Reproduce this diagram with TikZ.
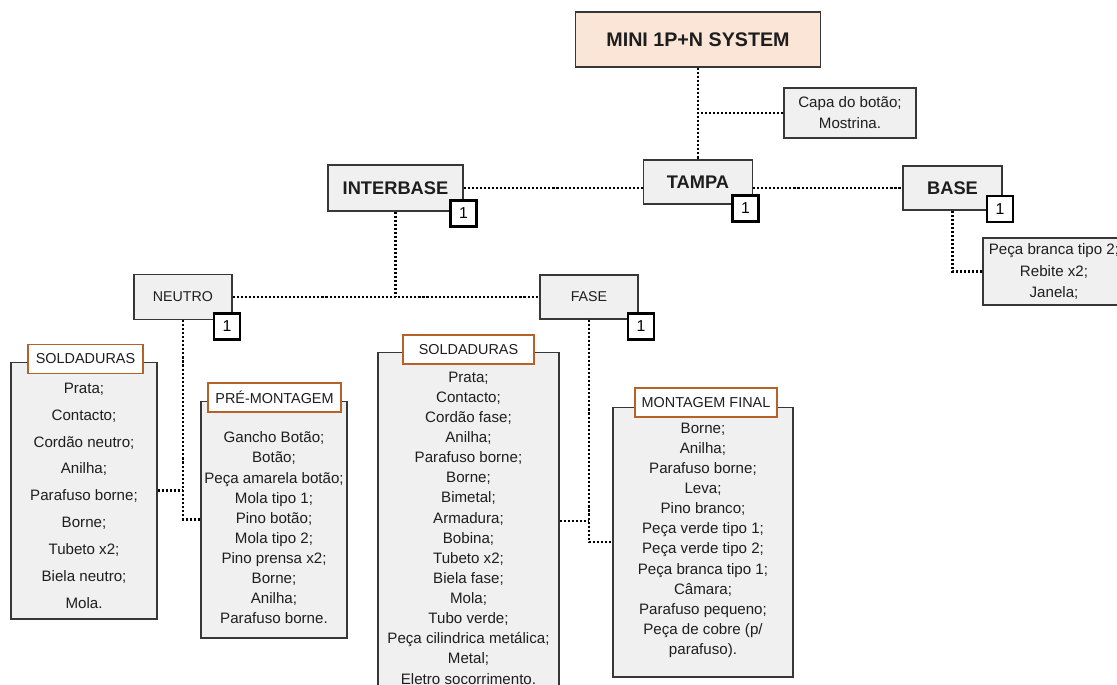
\documentclass[tikz,border=0pt]{standalone}
\usepackage{fontspec}
\setmainfont{Liberation Sans}
\definecolor{peach}{RGB}{251,229,214}
\definecolor{boxgray}{RGB}{240,240,240}
\definecolor{linegray}{RGB}{55,55,55}
\definecolor{rust}{RGB}{181,98,42}
\definecolor{ink}{RGB}{30,30,30}
\tikzset{
  box/.style={rectangle,draw=linegray,line width=0.6pt,fill=boxgray,text=ink,inner sep=0pt},
  title/.style={box,font=\fontsize{10.4}{12}\selectfont\bfseries},
  plain/.style={box,align=center,font=\fontsize{8.6}{12}\selectfont},
  badge/.style={rectangle,draw=black,line width=1.3pt,fill=white,minimum size=0.52cm,inner sep=0pt,font=\fontsize{9}{10}\selectfont},
  header/.style={rectangle,draw=rust,line width=0.7pt,fill=white,text=ink,inner sep=0pt,minimum height=0.58cm,font=\fontsize{8.2}{10}\selectfont},
  items/.style={anchor=north,align=center,inner sep=0pt,text=ink,font=\fontsize{8.6}{11.45}\selectfont},
  elbow/.style={to path={|- (\tikztotarget)}}
}
\begin{document}
\begin{tikzpicture}[x=0.02cm,y=-0.02cm]
        \clip (0,0) rectangle (1117,684);
        \fill[white] (0,0) rectangle (1117,684);
        % top levels
        \node[title,fill=peach,minimum width=4.9cm,minimum height=1.1cm,font=\fontsize{11.2}{13}\selectfont\bfseries] (sys) at (698,39.5) {MINI 1P+N SYSTEM};
        \node[plain,minimum width=2.64cm,minimum height=1cm] (capa) at (850,113) {Capa do botão;\\Mostrina.};
        \node[title,minimum width=2.18cm,minimum height=0.88cm] (tampa) at (698,182) {TAMPA};
        \node[title,minimum width=2.7cm,minimum height=0.92cm] (interbase) at (395.5,188) {INTERBASE};
        \node[title,minimum width=1.98cm,minimum height=0.88cm] (base) at (952.5,188) {BASE};
        \node[plain,minimum width=2.84cm,minimum height=1.34cm,font=\fontsize{8.6}{12.2}\selectfont] (baseinfo) at (1054,271.5) {Peça branca tipo 2;\\Rebite x2;\\Janela;};
        \node[plain,minimum width=1.96cm,minimum height=0.9cm,font=\fontsize{8.1}{10}\selectfont] (neutro) at (183,297) {NEUTRO};
        \node[plain,minimum width=1.96cm,minimum height=0.88cm,font=\fontsize{8.1}{10}\selectfont] (fase) at (589,297) {FASE};
        % lists
        \node[box,minimum width=2.92cm,minimum height=5.14cm] (solN) at (84,490.5) {};
        \node[box,minimum width=2.92cm,minimum height=4.74cm] (pre) at (274,519.5) {};
        \node[box,minimum width=3.62cm,minimum height=6.76cm] (solF) at (468.5,521) {};
        \node[box,minimum width=3.6cm,minimum height=5.4cm] (final) at (703,542) {};
        \node[items,font=\fontsize{8.6}{15.3}\selectfont] (solN-txt) at (84,382.5) {Prata;\\Contacto;\\Cordão neutro;\\Anilha;\\Parafuso borne;\\Borne;\\Tubeto x2;\\Biela neutro;\\Mola.};
        \node[items] (pre-txt) at (274,431.5) {Gancho Botão;\\Botão;\\Peça amarela botão;\\Mola tipo 1;\\Pino botão;\\Mola tipo 2;\\Pino prensa x2;\\Borne;\\Anilha;\\Parafuso borne.};
        \node[items] (solF-txt) at (468.5,371.5) {Prata;\\Contacto;\\Cordão fase;\\Anilha;\\Parafuso borne;\\Borne;\\Bimetal;\\Armadura;\\Bobina;\\Tubeto x2;\\Biela fase;\\Mola;\\Tubo verde;\\Peça cilindrica metálica;\\Metal;\\Eletro socorrimento.};
        \node[items] (final-txt) at (703,422.5) {Borne;\\Anilha;\\Parafuso borne;\\Leva;\\Pino branco;\\Peça verde tipo 1;\\Peça verde tipo 2;\\Peça branca tipo 1;\\Câmara;\\Parafuso pequeno;\\Peça de cobre (p/\\parafuso).};
        \node[header,minimum width=2.3cm] (solN-h) at (85.5,359) {SOLDADURAS};
        \node[header,minimum width=2.66cm] (pre-h) at (274.5,397.5) {PRÉ-MONTAGEM};
        \node[header,minimum width=2.62cm] (solF-h) at (468.5,349.5) {SOLDADURAS};
        \node[header,minimum width=2.84cm] (final-h) at (706,402.5) {MONTAGEM FINAL};
        % connectors
        \begin{scope}[every edge/.style={draw=black,line width=1.6pt,dash pattern=on 1.2pt off 1.1pt}]
          \path (sys) edge (tampa);
          \path (capa.west) edge (capa.west -| tampa.north);
          \path (interbase.east) edge (interbase.east -| tampa.west);
          \path (tampa.east |- base.west) edge (base.west);
          \path (interbase.south) edge (interbase.south |- neutro.east);
          \path (neutro.east) edge (fase.west);
          \path (base.south) edge[elbow] (baseinfo.west);
          \path (neutro.south) edge[elbow] (pre.west);
          \path (solN.east) edge (solN.east -| neutro.south);
          \path (fase.south) edge[elbow] (final.west);
          \path (solF.east) edge (solF.east -| fase.south);
        \end{scope}
        % quantities
        \begin{scope}[every node/.style={badge}]
          \node (tampa-n) at (745.5,208.5) {1};
          \node (interbase-n) at (463.5,213.5) {1};
          \node (base-n) at (1000,209) {1};
          \node (neutro-n) at (227,326.5) {1};
          \node (fase-n) at (641,326.5) {1};
        \end{scope}
      \end{tikzpicture}
\end{document}
